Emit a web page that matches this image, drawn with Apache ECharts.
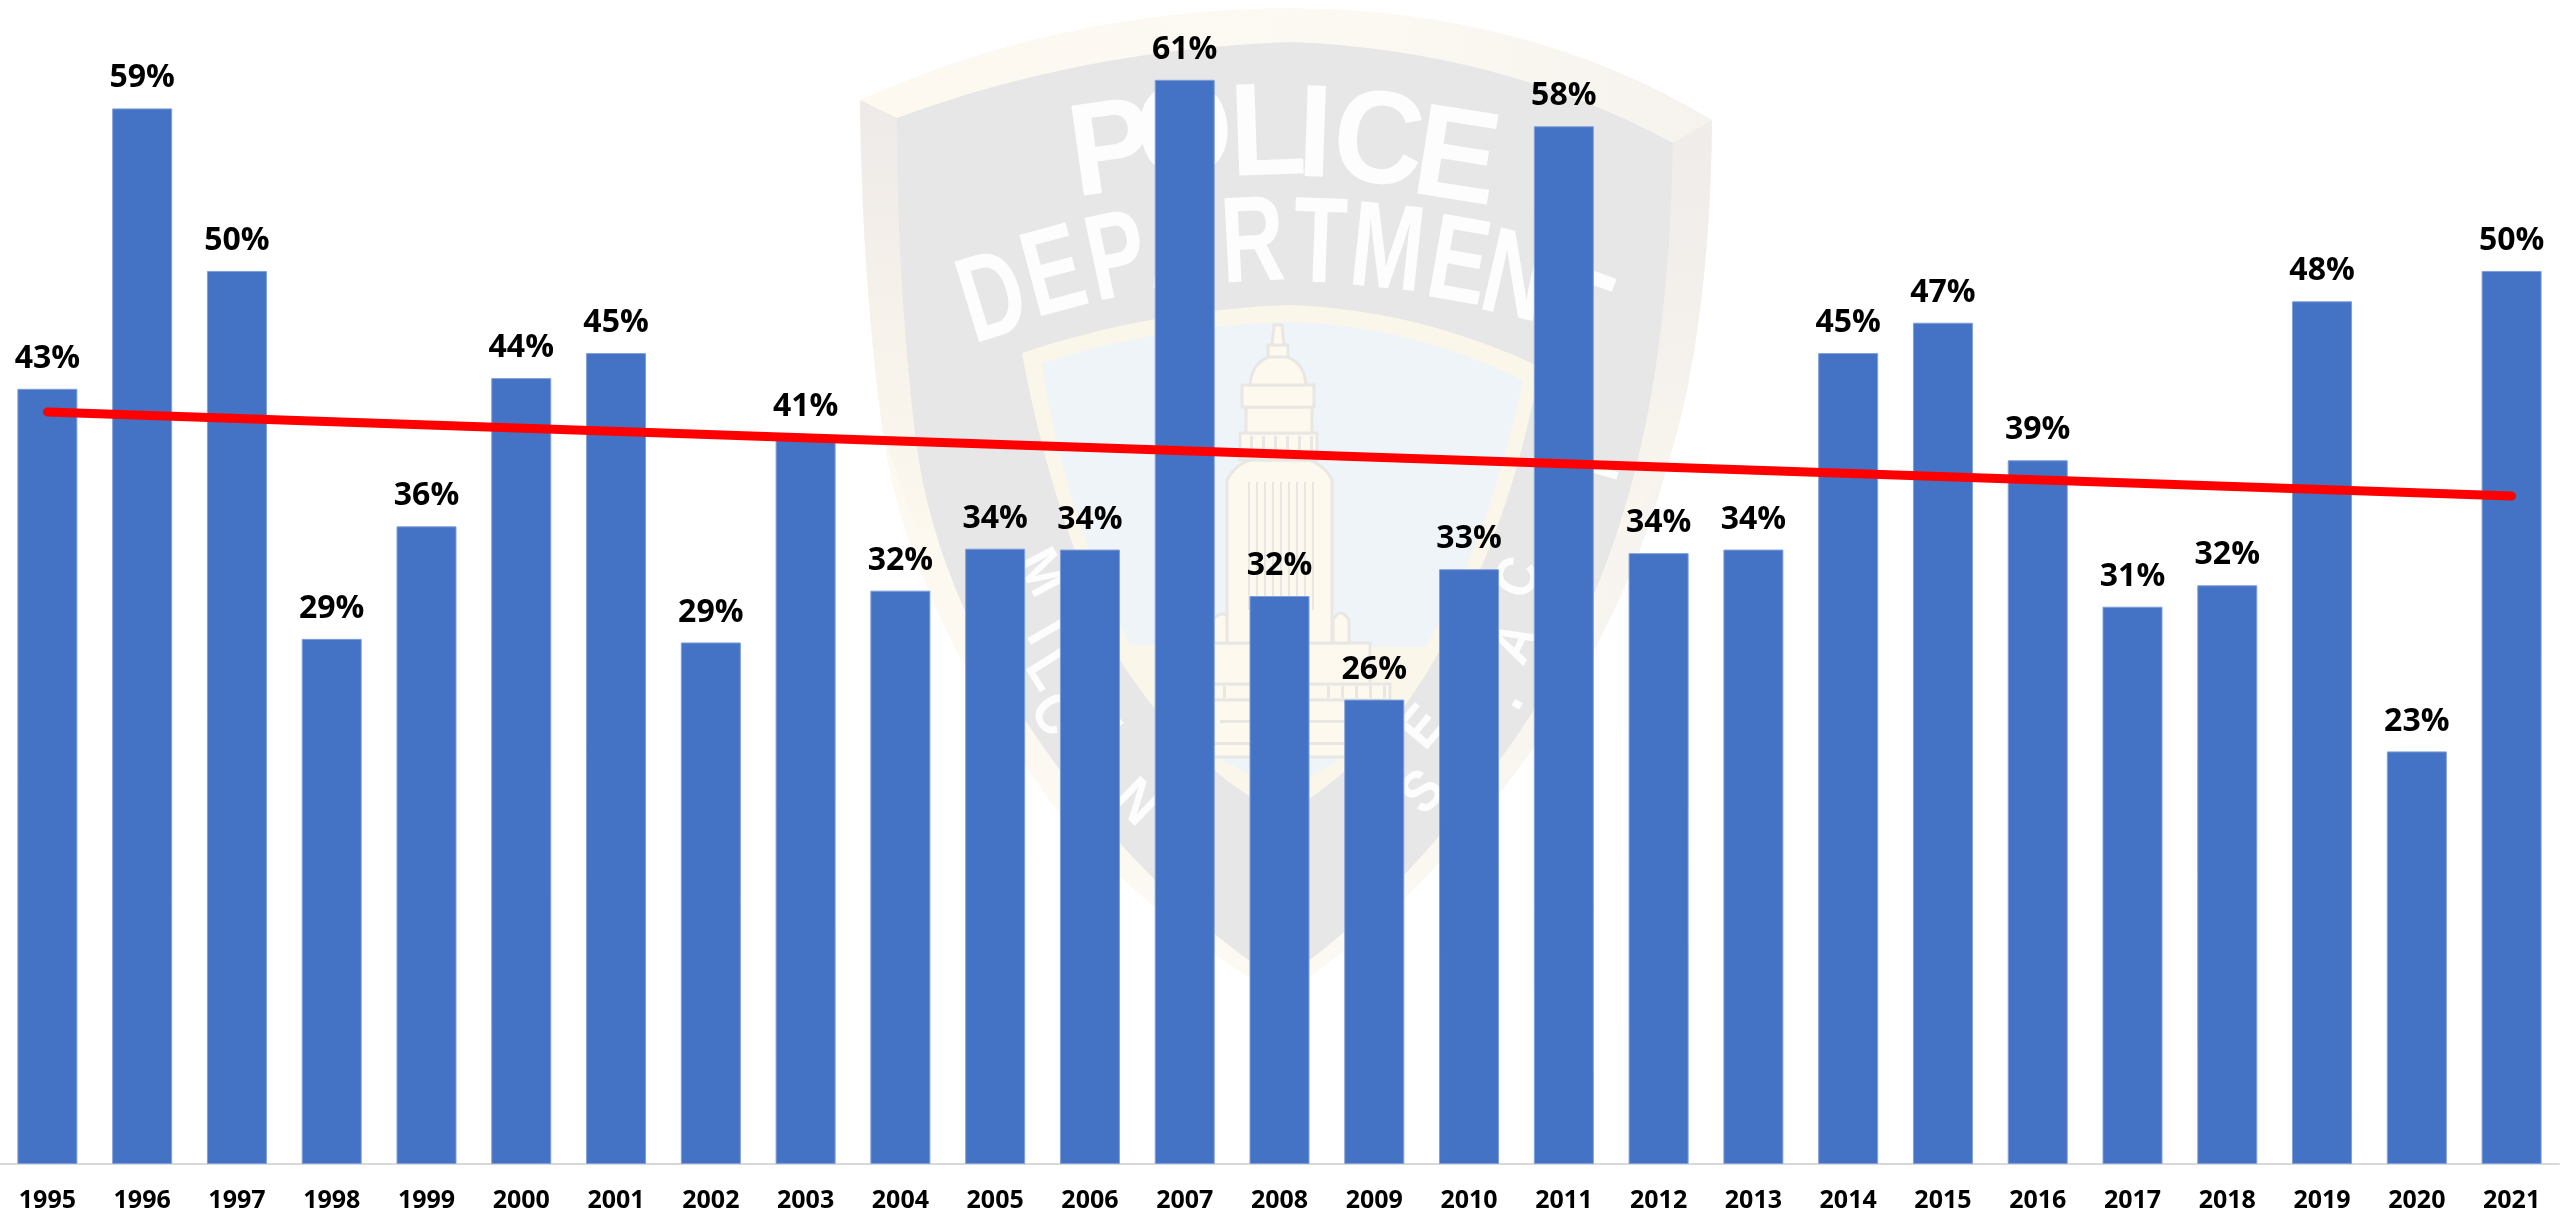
<!DOCTYPE html>
<html>
<head>
<meta charset="utf-8">
<title>Yearly percentages 1995-2021</title>
<script src="https://cdn.jsdelivr.net/npm/echarts@6/dist/echarts.min.js"></script>
<style>
    html, body { margin: 0; padding: 0; background: #fff; }
    #chart { width: 2560px; height: 1217px; }
</style>
</head>
<body>
<div id="chart"></div>
<script>
const years = ['1995', '1996', '1997', '1998', '1999', '2000', '2001', '2002', '2003',
    '2004', '2005', '2006', '2007', '2008', '2009', '2010', '2011', '2012', '2013',
    '2014', '2015', '2016', '2017', '2018', '2019', '2020', '2021'];
const percentages = [43.4, 59.1, 50.0, 29.4, 35.7, 44.0, 45.4, 29.2, 40.7,
    32.1, 34.45, 34.4, 60.7, 31.8, 26.0, 33.3, 58.1, 34.2, 34.4,
    45.4, 47.1, 39.4, 31.2, 32.4, 48.3, 23.1, 50.0];
const trendYears = ['1995', '2021'];
const trendValues = [42.1, 37.4];

// 背景水印：警徽，纯装饰，不参与数据
const badgeFont = 'Liberation Sans';
const creamFill = '#fdf9ee';
const creamLine = '#e8e7e3';

// 把 M/L/Q/Z 路径压平成折线，graphic 的 path 类型在这里用不了
function flatten(d) {
    const tokens = d.match(/[MLQZ]|-?\d+(\.\d+)?/g);
    const polys = [];
    let pts = null, i = 0, cx = 0, cy = 0;
    while (i < tokens.length) {
        const cmd = tokens[i++];
        if (cmd === 'M') {
            pts = [];
            polys.push(pts);
            cx = +tokens[i++]; cy = +tokens[i++];
            pts.push([cx, cy]);
        } else if (cmd === 'L') {
            cx = +tokens[i++]; cy = +tokens[i++];
            pts.push([cx, cy]);
        } else if (cmd === 'Q') {
            const qx = +tokens[i++], qy = +tokens[i++], ex = +tokens[i++], ey = +tokens[i++];
            for (let s = 1; s <= 16; s++) {
                const t = s / 16, u = 1 - t;
                pts.push([u * u * cx + 2 * u * t * qx + t * t * ex, u * u * cy + 2 * u * t * qy + t * t * ey]);
            }
            cx = ex; cy = ey;
        }
    }
    return polys;
}

function badgePath(d, fill, stroke) {
    return flatten(d).map(function (pts) {
        const style = { fill: fill };
        if (stroke) {
            style.stroke = stroke;
            style.lineWidth = 3;
        }
        return { type: 'polygon', z: -10, silent: true, shape: { points: pts }, style: style };
    });
}

function box(x, y, w, h) {
    return 'M' + x + ' ' + y + ' L' + (x + w) + ' ' + y + ' L' + (x + w) + ' ' + (y + h) + ' L' + x + ' ' + (y + h) + ' Z';
}

function badgeLetter(ch, x, y, deg, size, scaleX) {
    return {
        type: 'text', z: -5, silent: true,
        x: x, y: y + size * 0.06, rotation: deg * Math.PI / 180, scaleX: scaleX || 0.85,
        style: {
            text: ch, fill: '#fdfdfd', align: 'center', verticalAlign: 'middle',
            font: 'bold ' + size + 'px "' + badgeFont + '"'
        }
    };
}

function buildBadge() {
    const rimFill = new echarts.graphic.LinearGradient(0, 0, 1, 0, [
        { offset: 0, color: '#fdf9f1' }, { offset: 0.6, color: '#fcf9f3' }, { offset: 1, color: '#f6f3ee' }
    ]);
    const bevelLeft = new echarts.graphic.LinearGradient(0, 0, 0, 1, [
        { offset: 0, color: '#eeeae8' }, { offset: 0.5, color: '#f6f1ea' }, { offset: 1, color: '#fdf8ee' }
    ]);
    const bevelRight = new echarts.graphic.LinearGradient(0, 0, 0, 1, [
        { offset: 0, color: '#efecea' }, { offset: 0.6, color: '#f5f1ec' }, { offset: 1, color: '#fbf7ef' }
    ]);
    let parts = [].concat(
        // 外层米色边
        badgePath('M860 100 Q1060 10 1290 8 Q1530 10 1712 120 Q1710 330 1667 467 Q1620 640 1502 790 Q1400 920 1280 996 Q1150 920 1053 805 Q905 600 883 433 Q862 280 860 100 Z', rimFill),
        // 左右斜面
        badgePath('M860 100 L897 118 Q900 290 915 433 L945 520 L917 533 L883 433 Q862 280 860 100 Z', bevelLeft),
        badgePath('M1712 120 L1673 143 Q1670 330 1636 467 L1605 545 L1632 520 L1667 467 Q1710 330 1712 120 Z', bevelRight),
        // 灰色盾面
        badgePath('M897 118 Q1080 50 1290 42 Q1500 50 1673 143 Q1670 330 1636 467 Q1590 650 1480 785 Q1390 905 1280 982 Q1170 910 1075 790 Q935 610 915 433 Q897 280 897 118 Z', '#e7e7e7'),
        // 内层米色边与浅蓝区
        badgePath('M1022 353 Q1150 310 1290 305 Q1420 310 1540 367 Q1510 530 1440 650 Q1380 760 1283 815 Q1190 770 1120 660 Q1050 510 1022 353 Z', '#fbf6ea'),
        badgePath('M1042 363 Q1160 325 1290 322 Q1410 325 1523 380 Q1490 540 1425 647 L1130 645 Q1060 500 1042 363 Z', '#eff4f9'),
        badgePath('M1216 757 L1344 757 L1283 792 Z', '#eff4f9'),
        // 市政厅：从下往上叠
        badgePath('M1170 684 L1390 684 L1390 700 L1170 700 Z', creamFill, creamLine),
        badgePath('M1200 700 L1360 700 L1355 757 L1210 757 Z', creamFill, creamLine),
        badgePath(box(1180, 643, 190, 41), creamFill, creamLine),
        badgePath('M1213 643 L1213 620 Q1222 608 1231 620 L1231 643 Z M1333 643 L1333 620 Q1340 606 1349 620 L1349 643 Z', creamFill, creamLine),
        badgePath('M1227 643 L1227 480 Q1235 465 1250 460 L1308 460 Q1325 465 1332 480 L1332 643 Z', creamFill, creamLine),
        badgePath(box(1240, 433, 77, 27), creamFill, creamLine),
        badgePath(box(1246, 407, 66, 26), creamFill, creamLine),
        badgePath(box(1242, 385, 72, 22), creamFill, creamLine),
        badgePath('M1250 385 Q1252 358 1278 355 Q1304 358 1306 385 Z', creamFill, creamLine),
        badgePath(box(1268, 345, 20, 12), creamFill, creamLine),
        badgePath('M1274 325 L1282 325 L1284 345 L1272 345 Z', creamFill, creamLine)
    );
    // 塔身、基座的线条
    for (let x = 1248; x <= 1312; x += 8) {
        parts = parts.concat(badgePath(box(x, 482, 2, 128), creamLine));
    }
    for (let x = 1250; x <= 1310; x += 12) {
        parts = parts.concat(badgePath(box(x, 436, 3, 22), creamLine));
    }
    for (let x = 1327; x <= 1383; x += 14) {
        parts = parts.concat(badgePath(box(x, 686, 3, 12), creamLine));
        parts = parts.concat(badgePath(box(x - 160, 686, 3, 12), creamLine));
    }
    parts = parts.concat(badgePath(box(1220, 720, 126, 3), creamLine), badgePath(box(1212, 742, 142, 3), creamLine));

    const police = [['P', 1112, 147, 8], ['O', 1185, 130, 6], ['L', 1268, 130, 2],
        ['I', 1315, 132, -2], ['C', 1378, 138, -6], ['E', 1456, 155, -9]];
    const department = [['D', 994, 295, 17], ['E', 1055, 270, 15], ['P', 1118, 255, 12],
        ['A', 1178, 243, 8], ['R', 1253, 240, 3], ['T', 1320, 241, -2], ['M', 1387, 247, -6],
        ['E', 1458, 260, -10], ['N', 1515, 275, -13], ['T', 1575, 310, -20]];
    police.forEach(function (p) { parts.push(badgeLetter(p[0], p[1], p[2], p[3], 132, 0.95)); });
    department.forEach(function (p) { parts.push(badgeLetter(p[0], p[1], p[2], p[3], 122, 0.72)); });
    // 下部环形文字，只有柱子之间的缝里看得到
    const ring = [['M', 1040, 570, -62], ['I', 1043, 630, -60], ['L', 1046, 668, -58], ['C', 1052, 712, -55],
        ['N', 1135, 800, -44], ['.', 1127, 712, -50],
        ['S', 1424, 790, 46], ['E', 1424, 725, 50], ['C', 1520, 575, 68], ['A', 1517, 640, 64],
        ['.', 1507, 695, 60], ['T', 1602, 468, 74]];
    ring.forEach(function (p) { parts.push(badgeLetter(p[0], p[1], p[2], p[3], 58, 0.9)); });
    return parts;
}

const chart = echarts.init(document.getElementById('chart'), null, { renderer: 'canvas' });
const option = {
    backgroundColor: '#fff',
    animation: false,
    graphic: { elements: buildBadge() },
    grid: { left: 0, right: 1, top: 3, bottom: 53, containLabel: false },
    xAxis: {
        type: 'category',
        data: years,
        axisLine: { lineStyle: { color: '#d9d9d9', width: 2 } },
        axisTick: { show: false },
        axisLabel: {
            margin: 24,
            color: '#000',
            fontFamily: 'Open Sans',
            fontWeight: 'bold',
            fontSize: 25,
            interval: 0
        }
    },
    yAxis: { type: 'value', min: 0, max: 65, show: false },
    series: [{
        type: 'bar',
        data: percentages,
        barWidth: 60,
        itemStyle: { color: '#4472C4', borderColor: '#7f9fd8', borderWidth: 1 },
        label: {
            show: true,
            position: 'top',
            distance: 14,
            color: '#000',
            fontFamily: 'Open Sans',
            fontWeight: 'bold',
            fontSize: 32,
            formatter: function (p) { return Math.round(p.value) + '%'; }
        }
    }, {
        type: 'line',
        data: trendYears.map(function (y, i) { return [y, trendValues[i]]; }),
        showSymbol: false,
        z: 5,
        lineStyle: { color: '#ff0000', width: 9, cap: 'round' }
    }]
};
chart.setOption(option);
</script>
</body>
</html>
